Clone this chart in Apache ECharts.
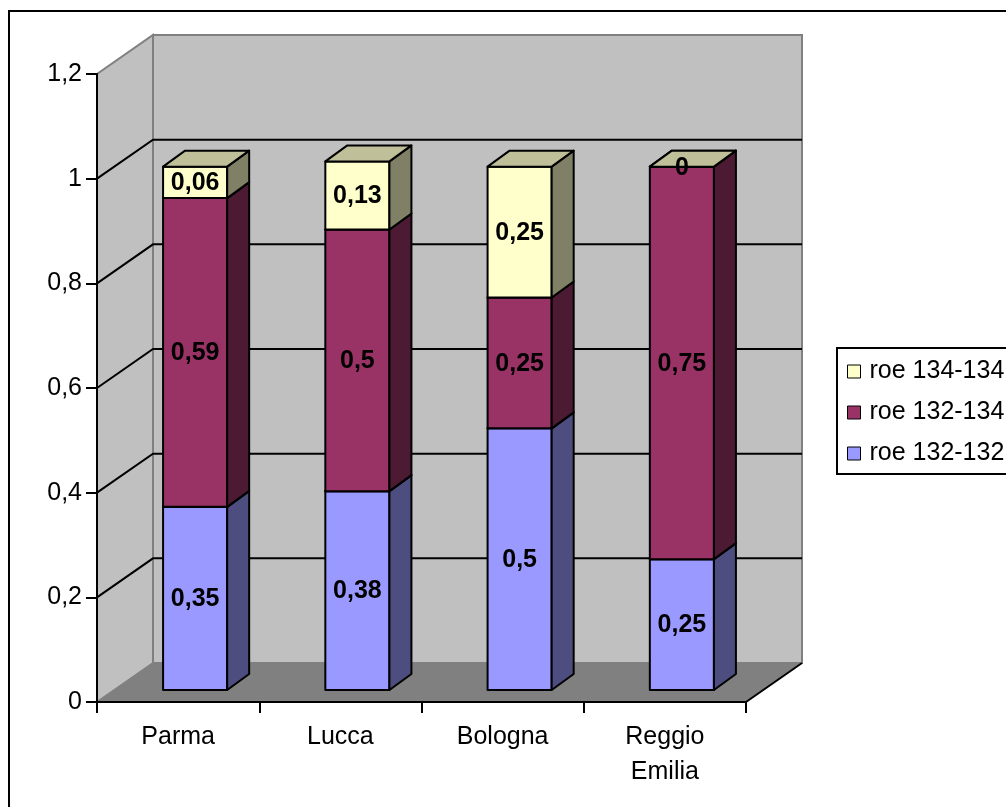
<!DOCTYPE html>
<html>
<head>
<meta charset="utf-8">
<script src="https://cdn.jsdelivr.net/npm/echarts@6/dist/echarts.min.js"></script>
<style>
  html, body { margin: 0; padding: 0; background: #fff; }
  #chart { width: 1006px; height: 807px; }
</style>
</head>
<body>
<div id="chart"></div>
<script>
// Categories and stacked shares per series (bottom to top)
const categories = ['Parma', 'Lucca', 'Bologna', 'Reggio\nEmilia'];
const seriesNames = ['roe 132-132', 'roe 132-134', 'roe 134-134'];
const roe132_132 = [0.35, 0.38, 0.5, 0.25];
const roe132_134 = [0.59, 0.5, 0.25, 0.75];
const roe134_134 = [0.06, 0.13, 0.25, 0];
const yTicks = [0, 0.2, 0.4, 0.6, 0.8, 1, 1.2];

const seriesValues = [roe132_132, roe132_134, roe134_134];
const seriesColors = ['#9999FF', '#993366', '#FFFFCC'];

const FONT = '"Liberation Sans", Arial, sans-serif';
const WALL_DEPTH = [56, -39];   // offset of the back wall from the front plane
const BAR_SHIFT = [17, -12];    // front face of the columns, inside the depth
const BAR_DEPTH = [22, -16];    // thickness of each column
const BAR_RATIO = 0.395;        // column width relative to category band

function shade(hex, k) {
  const n = parseInt(hex.slice(1), 16);
  const r = Math.round(((n >> 16) & 255) * k);
  const g = Math.round(((n >> 8) & 255) * k);
  const b = Math.round((n & 255) * k);
  return 'rgb(' + r + ',' + g + ',' + b + ')';
}
function fmt(v) { return String(Number(v.toFixed(2))).replace('.', ','); }

// Walls, floor and gridlines of the 3D box
function renderWalls(params, api) {
  const cs = params.coordSys;
  const x0 = cs.x, x1 = cs.x + cs.width;
  const [dx, dy] = WALL_DEPTH;
  const y0 = api.coord([0, 0])[1];
  const yTop = api.coord([0, yTicks[yTicks.length - 1]])[1];
  const children = [];
  // back wall
  children.push({ type: 'polygon', shape: { points: [[x0 + dx, yTop + dy], [x1 + dx, yTop + dy], [x1 + dx, y0 + dy], [x0 + dx, y0 + dy]] },
    style: { fill: '#C0C0C0', stroke: '#808080', lineWidth: 2 } });
  // left side wall
  children.push({ type: 'polygon', shape: { points: [[x0, y0], [x0, yTop], [x0 + dx, yTop + dy], [x0 + dx, y0 + dy]] },
    style: { fill: '#C0C0C0', stroke: '#808080', lineWidth: 2 } });
  // floor
  children.push({ type: 'polygon', shape: { points: [[x0, y0], [x1, y0], [x1 + dx, y0 + dy], [x0 + dx, y0 + dy]] },
    style: { fill: '#808080', stroke: null } });
  children.push({ type: 'line', shape: { x1: x1, y1: y0, x2: x1 + dx, y2: y0 + dy },
    style: { stroke: '#000', lineWidth: 2 } });
  // gridlines across side wall and back wall
  yTicks.slice(1, -1).forEach(function (v) {
    const y = api.coord([0, v])[1];
    children.push({ type: 'polyline', shape: { points: [[x0, y], [x0 + dx, y + dy], [x1 + dx, y + dy]] },
      style: { stroke: '#000', lineWidth: 2, fill: null } });
  });
  return { type: 'group', children: children };
}

// One stacked segment drawn as a box with front, side and top faces
function renderSegment(params, api) {
  const cat = api.value(0), base = api.value(1), top = api.value(2), val = api.value(3);
  const pb = api.coord([cat, base]);
  const pt = api.coord([cat, top]);
  const w = api.size([1, 0])[0] * BAR_RATIO;
  const cx = pb[0] + BAR_SHIFT[0];
  const yb = pb[1] + BAR_SHIFT[1], yt = pt[1] + BAR_SHIFT[1];
  const l = cx - w / 2, r = cx + w / 2;
  const [dx, dy] = BAR_DEPTH;
  const c = seriesColors[params.seriesIndex - 1];
  const line = { stroke: '#000', lineWidth: 2, lineJoin: 'round' };
  return {
    type: 'group',
    children: [
      { type: 'polygon', shape: { points: [[l, yt], [r, yt], [r, yb], [l, yb]] }, style: Object.assign({ fill: c }, line) },
      { type: 'polygon', shape: { points: [[r, yt], [r + dx, yt + dy], [r + dx, yb + dy], [r, yb]] }, style: Object.assign({ fill: shade(c, 0.5) }, line) },
      { type: 'polygon', shape: { points: [[l, yt], [l + dx, yt + dy], [r + dx, yt + dy], [r, yt]] }, style: Object.assign({ fill: shade(c, 0.75) }, line) },
      { type: 'text', style: { text: fmt(val), x: cx, y: (yt + yb) / 2 + 1, align: 'center', verticalAlign: 'middle',
        fontSize: 25, fontWeight: 'bold', fontFamily: FONT, fill: '#000' } }
    ]
  };
}

const series = [{
  type: 'custom', name: 'walls', renderItem: renderWalls, data: [[0, 0]], z: 1, silent: true, clip: false
}];
const running = categories.map(function () { return 0; });
seriesValues.forEach(function (vals, s) {
  const data = vals.map(function (v, i) {
    const item = [i, running[i], running[i] + v, v];
    running[i] += v;
    return item;
  });
  series.push({
    type: 'custom', name: seriesNames[s], renderItem: renderSegment, data: data,
    encode: { x: 0, y: [1, 2] }, z: 2, clip: false,
    itemStyle: { color: seriesColors[s], borderColor: '#000', borderWidth: 1 }
  });
});

const chart = echarts.init(document.getElementById('chart'), null, { renderer: 'canvas' });
chart.setOption({
  animation: false,
  backgroundColor: '#fff',
  graphic: [{
    type: 'rect', shape: { x: 9, y: 11, width: 1100, height: 900 },
    style: { fill: null, stroke: '#000', lineWidth: 2 }, z: 100, silent: true
  }],
  grid: { left: 97, top: 74, width: 649, height: 628 },
  xAxis: {
    type: 'category', data: categories, boundaryGap: true, z: 5,
    axisLine: { show: true, lineStyle: { color: '#000', width: 2 } },
    axisTick: { show: true, length: 11, alignWithLabel: false, lineStyle: { color: '#000', width: 2 } },
    axisLabel: { color: '#000', fontSize: 25, fontFamily: FONT, lineHeight: 35, margin: 18, interval: 0 },
    splitLine: { show: false }
  },
  yAxis: {
    type: 'value', min: 0, max: 1.2, interval: 0.2, z: 5,
    axisLine: { show: true, lineStyle: { color: '#000', width: 2 } },
    axisTick: { show: true, length: 11, lineStyle: { color: '#000', width: 2 } },
    axisLabel: { color: '#000', fontSize: 25, fontFamily: FONT, margin: 15,
      formatter: function (v) { return fmt(v); } },
    splitLine: { show: false }
  },
  legend: {
    orient: 'vertical', left: 837, top: 348,
    data: seriesNames.slice().reverse(),
    icon: 'rect', itemWidth: 13, itemHeight: 13, itemGap: 16,
    padding: [11, 40, 8, 10],
    borderColor: '#000', borderWidth: 2,
    itemStyle: { borderColor: '#000', borderWidth: 1 },
    textStyle: { fontSize: 25, color: '#000', fontFamily: FONT, padding: [0, 0, 0, 4] }
  },
  series: series
});
</script>
</body>
</html>
